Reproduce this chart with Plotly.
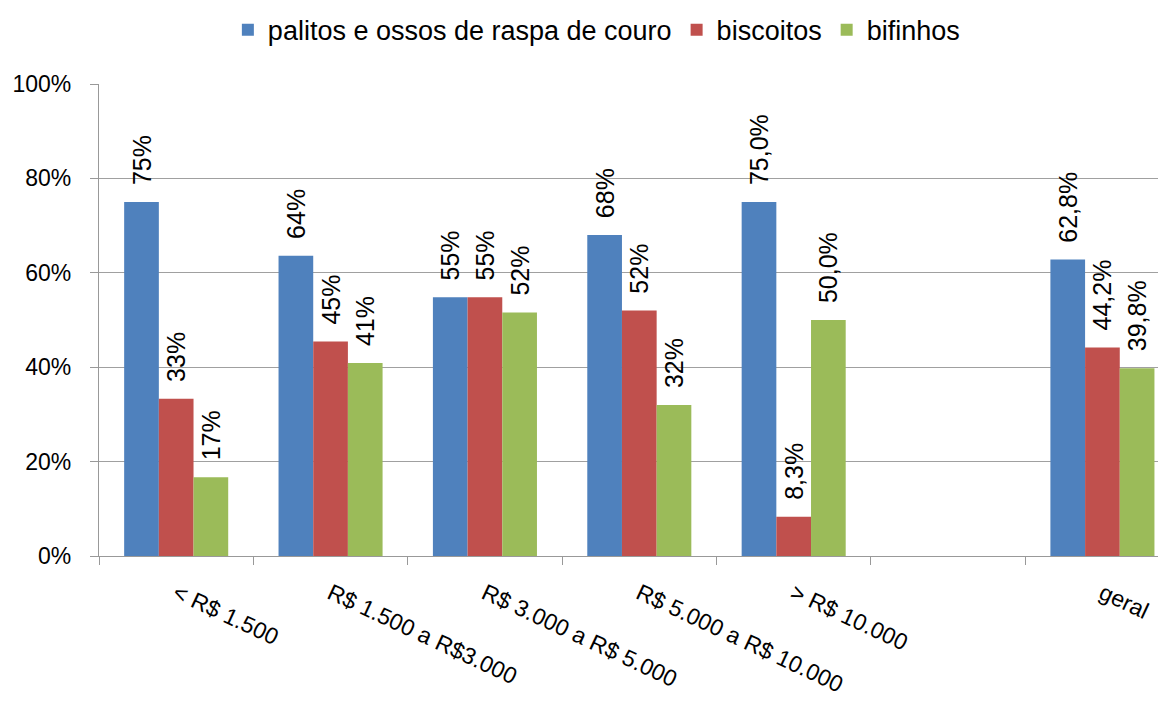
import plotly.graph_objects as go

categories = ["< R$ 1.500", "R$ 1.500 a R$3.000", "R$ 3.000 a R$ 5.000",
              "R$ 5.000 a R$ 10.000", "> R$ 10.000", " ", "geral"]

series_names = ["palitos e ossos de raspa de couro", "biscoitos", "bifinhos"]

palitos = [0.75, 0.636, 0.548, 0.68, 0.75, None, 0.628]
biscoitos = [0.333, 0.4545, 0.548, 0.52, 0.0833, None, 0.442]
bifinhos = [0.167, 0.409, 0.516, 0.32, 0.50, None, 0.398]

palitos_labels = ["75%", "64%", "55%", "68%", "75,0%", "", "62,8%"]
biscoitos_labels = ["33%", "45%", "55%", "52%", "8,3%", "", "44,2%"]
bifinhos_labels = ["17%", "41%", "52%", "32%", "50,0%", "", "39,8%"]

colors = ["#4F81BD", "#C0504D", "#9BBB59"]

FONT = "Liberation Sans, Arial, sans-serif"
pad = "\u00a0\u00a0"

fig = go.Figure()
for name, vals, labels, col in zip(series_names,
                                   [palitos, biscoitos, bifinhos],
                                   [palitos_labels, biscoitos_labels, bifinhos_labels],
                                   colors):
    fig.add_trace(go.Bar(
        name=name, x=categories, y=vals,
        text=[(pad + t) if t else "" for t in labels],
        textposition="outside", textangle=-90, cliponaxis=False,
        constraintext="none",
        textfont=dict(family=FONT, size=25, color="#000000"),
        marker=dict(color=col, line=dict(width=0)),
    ))

fig.update_layout(
    width=1158, height=704,
    margin=dict(l=99, r=0, t=84, b=148, autoexpand=False),
    plot_bgcolor="white", paper_bgcolor="white",
    barmode="group", bargap=0.326, bargroupgap=0,
    font=dict(family=FONT, color="#000000"),
    legend=dict(orientation="h", xref="container", yref="container",
                x=0.515, y=0.957, xanchor="center", yanchor="middle",
                font=dict(family=FONT, size=27), itemwidth=30),
    showlegend=True,
)

fig.update_xaxes(
    type="category", categoryorder="array", categoryarray=categories,
    range=[-0.5, 6.36], tickson="boundaries", automargin=False,
    showline=True, linecolor="#999999", linewidth=1.3,
    ticks="outside", ticklen=8, tickcolor="#999999", tickwidth=1.3,
    tickangle=25, ticklabelstandoff=14,
    tickfont=dict(family=FONT, size=23, color="#000000"),
    showgrid=False,
)

fig.update_yaxes(
    range=[0, 1], dtick=0.2, tickformat=".0%", automargin=False,
    showgrid=True, gridcolor="#A0A0A0", gridwidth=1.3,
    showline=True, linecolor="#999999", linewidth=1.3,
    ticks="outside", ticklen=8, tickcolor="#999999", tickwidth=1.3,
    ticklabelstandoff=14,
    tickfont=dict(family=FONT, size=23, color="#000000"),
    zeroline=False,
)

fig.write_html("out.html")
